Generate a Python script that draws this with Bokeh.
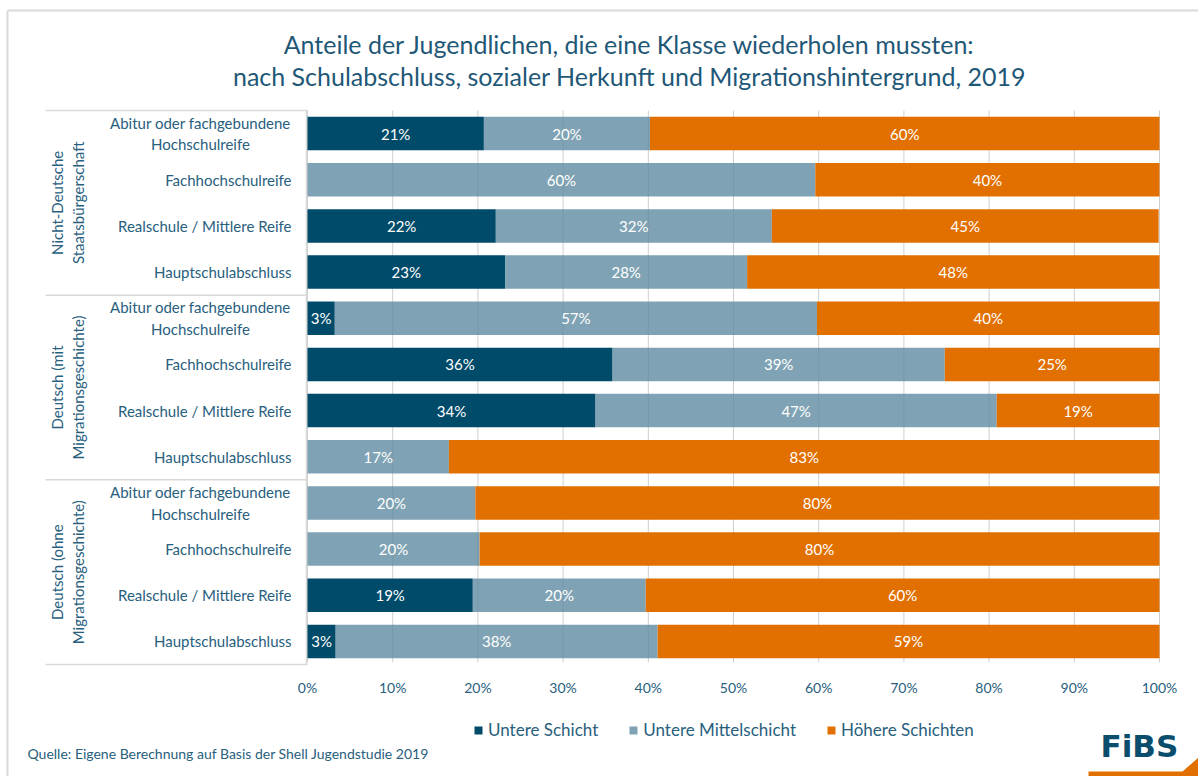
import numpy as np
from bokeh.plotting import figure
from bokeh.models import (ColumnDataSource, Range1d, FixedTicker, PrintfTickFormatter,
                          Legend, LegendItem)
from bokeh.embed import file_html
from bokeh.resources import INLINE
from bokeh.core.properties import value

# ---------------- data ----------------
title_lines = ["Anteile der Jugendlichen, die eine Klasse wiederholen mussten:",
               "nach Schulabschluss, sozialer Herkunft und Migrationshintergrund, 2019"]
groups = ["Nicht-Deutsche\nStaatsbürgerschaft",
          "Deutsch (mit\nMigrationsgeschichte)",
          "Deutsch (ohne\nMigrationsgeschichte)"]
categories = ["Abitur oder fachgebundene\nHochschulreife", "Fachhochschulreife",
              "Realschule / Mittlere Reife", "Hauptschulabschluss"]
series = ["Untere Schicht", "Untere Mittelschicht", "Höhere Schichten"]
untere = [20.7, 0.0, 22.1, 23.2, 3.2, 35.8, 33.8, 0.0, 0.0, 0.0, 19.4, 3.3]
mittel = [19.5, 59.6, 32.4, 28.4, 56.6, 39.0, 47.1, 16.6, 19.7, 20.2, 20.3, 37.8]
hoehere = [59.8, 40.4, 45.4, 48.4, 40.2, 25.2, 19.1, 83.4, 80.3, 79.8, 60.3, 58.9]
x_ticks = [0, 10, 20, 30, 40, 50, 60, 70, 80, 90, 100]
source_note = "Quelle: Eigene Berechnung auf Basis der Shell Jugendstudie 2019"
logo_text = "FiBS"

# ---------------- style / layout ----------------
FONT = "Lato"
C_DARK = "#004b6a"
C_MID = "#5f8ca1"
C_ORANGE = "#e27000"
C_TEXT = "#28607e"
C_TITLE = "#1f5877"
C_LINE = "#d9d9d9"
C_GRID = "#cfcfcf"

W, H = 1198, 776
ROWS_TOP, ROWS_BOTTOM = 110, 664
ZERO_PAGE, HUNDRED_PAGE = 307, 1159
ppu = (HUNDRED_PAGE - ZERO_PAGE) / 100.0
n = len(untere)
rowpx = (ROWS_BOTTOM - ROWS_TOP) / n


def px_to_x(page_x):
    return (page_x - ZERO_PAGE) / ppu


def py_to_y(page_y):
    return (page_y - ROWS_TOP) / rowpx


p = figure(width=W, height=H, output_backend="svg", toolbar_location=None,
           x_range=Range1d(px_to_x(0), px_to_x(W)),
           y_range=Range1d(py_to_y(H), py_to_y(0)),
           y_axis_location=None, min_border=0, title=None)
p.outline_line_color = None
p.background_fill_color = "white"
p.border_fill_color = "white"
p.grid.visible = False

ax = p.xaxis[0]
ax.ticker = FixedTicker(ticks=x_ticks)
ax.formatter = PrintfTickFormatter(format="%d%%")
ax.axis_line_color = None
ax.major_tick_line_color = None
ax.minor_tick_line_color = None
ax.major_tick_out = 0
ax.major_tick_in = 0
ax.major_label_standoff = 678 - H
ax.major_label_text_font = FONT
ax.major_label_text_font_size = "14px"
ax.major_label_text_color = C_TEXT

# outer frame (top + left)
p.segment(x0=[px_to_x(7), px_to_x(7)], y0=[py_to_y(10), py_to_y(10)],
          x1=[px_to_x(W + 5), px_to_x(7)], y1=[py_to_y(10), py_to_y(H + 5)],
          line_color=C_LINE, line_width=2)

# grid lines (only across the bar area)
p.segment(x0=x_ticks, x1=x_ticks, y0=[py_to_y(ROWS_TOP)] * len(x_ticks),
          y1=[py_to_y(662)] * len(x_ticks), line_color=C_GRID, line_width=1)

ys = [i + 0.5 for i in range(n)]

# left-side label box lines
for b in [0, 4, 8, 12]:
    p.segment(x0=px_to_x(45), x1=0, y0=b, y1=b, line_color=C_LINE, line_width=1.5)
p.segment(x0=px_to_x(306), x1=px_to_x(306), y0=0, y1=12, line_color=C_LINE, line_width=1.5)

vals = [np.array(untere), np.array(mittel), np.array(hoehere)]
colors = [C_DARK, C_MID, C_ORANGE]
alphas = [1.0, 0.8, 1.0]

renderers = []
lab_x, lab_y, lab_t = [], [], []
left = np.zeros(n)
for v, c, a in zip(vals, colors, alphas):
    right = left + v
    mask = v > 0
    src = ColumnDataSource(dict(y=np.array(ys)[mask], left=left[mask], right=right[mask]))
    r = p.hbar(y="y", left="left", right="right", height=0.725, source=src,
               fill_color=c, fill_alpha=a, line_color=None)
    renderers.append(r)
    for i in range(n):
        if v[i] > 0:
            lab_x.append((left[i] + right[i]) / 2)
            lab_y.append(ys[i])
            lab_t.append(f"{v[i]:.0f}%")
    left = right

p.text(x=lab_x, y=lab_y, text=lab_t, text_color="white", text_font=value(FONT),
       text_font_size="15px", text_align="center", text_baseline="middle")

# category labels
cat_rows = [categories[i % 4] for i in range(n)]
single = [(ys[i], cat_rows[i]) for i in range(n) if "\n" not in cat_rows[i]]
double = [(ys[i], cat_rows[i]) for i in range(n) if "\n" in cat_rows[i]]
p.text(x=[px_to_x(291)] * len(single), y=[s[0] for s in single], text=[s[1] for s in single],
       text_color=C_TEXT, text_font=value(FONT), text_font_size="15px",
       text_align="right", text_baseline="middle")
p.text(x=[px_to_x(200)] * len(double), y=[s[0] for s in double], text=[s[1] for s in double],
       text_color=C_TEXT, text_font=value(FONT), text_font_size="15px",
       text_align="center", text_baseline="middle", text_line_height=1.2)

# group labels
p.text(x=[px_to_x(67)] * 3, y=[2, 6, 10], text=groups, angle=np.pi / 2,
       text_color=C_TEXT, text_font=value(FONT), text_font_size="15px",
       text_align="center", text_baseline="middle", text_line_height=1.15)

# title
p.text(x=[px_to_x(629)] * 2, y=[py_to_y(43), py_to_y(75)], text=title_lines,
       text_color=C_TITLE, text_font=value(FONT), text_font_size="25px",
       text_align="center", text_baseline="middle")

# legend
legend = Legend(items=[LegendItem(label=s, renderers=[r]) for s, r in zip(series, renderers)],
                location=(473, H - 740), orientation="horizontal",
                glyph_width=10, glyph_height=10, label_standoff=5, spacing=30,
                padding=0, margin=0, border_line_color=None, background_fill_alpha=0,
                label_text_font=FONT, label_text_font_size="17px", label_text_color=C_TEXT)
p.add_layout(legend)

# source and logo
p.text(x=[px_to_x(27)], y=[py_to_y(753)], text=[source_note], text_color=C_TEXT,
       text_font=value(FONT), text_font_size="14px", text_align="left", text_baseline="middle")
p.text(x=[px_to_x(1100)], y=[py_to_y(745)], text=[logo_text], text_color="#0b4d6c",
       text_font=value("DejaVu Sans"), text_font_size="31px", text_font_style="bold",
       text_align="left", text_baseline="middle")
p.patch(x=[px_to_x(v) for v in [1088, 1182, 1198, 1198, 1088]],
        y=[py_to_y(v) for v in [771, 771, 757, 776, 776]],
        fill_color=C_ORANGE, line_color=None)

open("out.html", "w").write(file_html(p, INLINE))
